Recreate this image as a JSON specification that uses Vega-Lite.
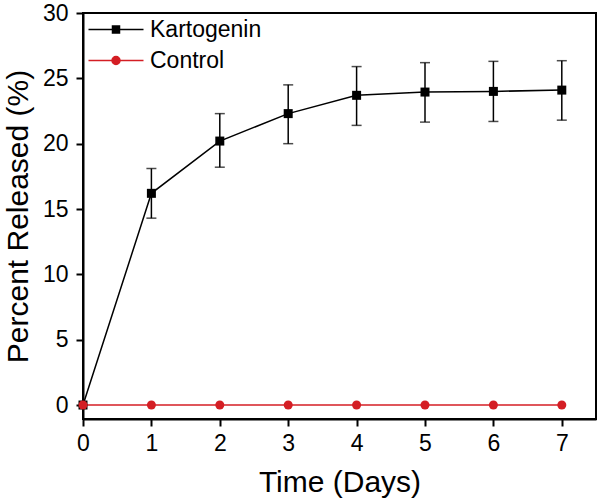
{
  "$schema": "https://vega.github.io/schema/vega-lite/v6.json",
  "width": 513,
  "height": 406,
  "autosize": {"type": "none"},
  "padding": {"left": 83, "top": 13, "right": 4, "bottom": 82},
  "background": "white",
  "config": {
    "font": "Liberation Sans",
    "view": {"stroke": "black", "strokeWidth": 2},
    "axis": {
      "grid": false,
      "domainColor": "black",
      "domainWidth": 2,
      "tickColor": "black",
      "tickWidth": 2,
      "labelColor": "black",
      "labelFont": "Liberation Sans",
      "labelFontSize": 23,
      "titleFont": "Liberation Sans",
      "titleFontSize": 30,
      "titleFontWeight": "normal",
      "titleColor": "black"
    }
  },
  "data": {
    "values": [
      {"series": "Kartogenin", "day": 0, "value": 0, "lo": null, "hi": null},
      {"series": "Kartogenin", "day": 1, "value": 16.2, "lo": 14.3, "hi": 18.1},
      {"series": "Kartogenin", "day": 2, "value": 20.2, "lo": 18.2, "hi": 22.3},
      {"series": "Kartogenin", "day": 3, "value": 22.3, "lo": 20.0, "hi": 24.5},
      {"series": "Kartogenin", "day": 4, "value": 23.7, "lo": 21.4, "hi": 25.9},
      {"series": "Kartogenin", "day": 5, "value": 23.95, "lo": 21.65, "hi": 26.2},
      {"series": "Kartogenin", "day": 6, "value": 24.0, "lo": 21.7, "hi": 26.3},
      {"series": "Kartogenin", "day": 7, "value": 24.1, "lo": 21.8, "hi": 26.35},
      {"series": "Control", "day": 0, "value": 0, "lo": null, "hi": null},
      {"series": "Control", "day": 1, "value": 0, "lo": null, "hi": null},
      {"series": "Control", "day": 2, "value": 0, "lo": null, "hi": null},
      {"series": "Control", "day": 3, "value": 0, "lo": null, "hi": null},
      {"series": "Control", "day": 4, "value": 0, "lo": null, "hi": null},
      {"series": "Control", "day": 5, "value": 0, "lo": null, "hi": null},
      {"series": "Control", "day": 6, "value": 0, "lo": null, "hi": null},
      {"series": "Control", "day": 7, "value": 0, "lo": null, "hi": null}
    ]
  },
  "layer": [
    {
      "mark": {"type": "line", "strokeWidth": 1.5},
      "encoding": {
        "x": {
          "field": "day",
          "type": "quantitative",
          "scale": {"domain": [0, 7.5], "nice": false, "zero": false},
          "axis": {
            "title": "Time (Days)",
            "values": [0, 0.5, 1, 1.5, 2, 2.5, 3, 3.5, 4, 4.5, 5, 5.5, 6, 6.5, 7],
            "labelExpr": "datum.value % 1 === 0 ? format(datum.value, 'd') : ''",
            "tickSize": {"condition": {"test": "datum.value % 1 === 0", "value": 7}, "value": 4},
            "labelPadding": 6,
            "titlePadding": 12,
            "labelFlush": false,
            "labelOverlap": false
          }
        },
        "y": {
          "field": "value",
          "type": "quantitative",
          "scale": {"domain": [-1.07, 30], "nice": false, "zero": false},
          "axis": {
            "title": "Percent Released (%)",
            "values": [0, 2.5, 5, 7.5, 10, 12.5, 15, 17.5, 20, 22.5, 25, 27.5, 30],
            "labelExpr": "datum.value % 5 === 0 ? format(datum.value, 'd') : ''",
            "tickSize": {"condition": {"test": "datum.value % 5 === 0", "value": 7}, "value": 4},
            "labelPadding": 8,
            "titlePadding": 9,
            "labelFlush": false,
            "labelOverlap": false
          }
        },
        "color": {
          "field": "series",
          "type": "nominal",
          "scale": {"domain": ["Kartogenin", "Control"], "range": ["black", "#d41e24"]},
          "legend": {
            "orient": "none",
            "legendX": 21.5,
            "legendY": 5,
            "title": null,
            "padding": 0,
            "symbolSize": 64,
            "symbolStrokeWidth": 1.5,
            "labelFont": "Liberation Sans",
            "labelFontSize": 23,
            "labelColor": "black",
            "labelOffset": 22.5,
            "rowPadding": 7,
            "encode": {
              "symbols": {
                "update": {
                  "shape": {"signal": "datum.value === 'Kartogenin' ? 'M-6.875,0H6.875M-0.875,-0.875H0.875V0.875H-0.875Z' : 'M-6.875,0H6.875M1,0A1,1,0,1,1,-1,0A1,1,0,1,1,1,0Z'"},
                  "fill": {"scale": "color", "field": "value"},
                  "stroke": {"scale": "color", "field": "value"},
                  "opacity": {"value": 1}
                }
              }
            }
          }
        }
      }
    },
    {
      "transform": [{"filter": "datum.lo != null"}],
      "mark": {"type": "rule", "strokeWidth": 1.5, "color": "black"},
      "encoding": {
        "x": {"field": "day", "type": "quantitative"},
        "y": {"field": "lo", "type": "quantitative"},
        "y2": {"field": "hi"}
      }
    },
    {
      "transform": [
        {"filter": "datum.lo != null"},
        {"fold": ["lo", "hi"], "as": ["end", "bound"]}
      ],
      "mark": {"type": "tick", "orient": "horizontal", "size": 10, "thickness": 1.5, "color": "black"},
      "encoding": {
        "x": {"field": "day", "type": "quantitative"},
        "y": {"field": "bound", "type": "quantitative"}
      }
    },
    {
      "mark": {"type": "point", "filled": true, "opacity": 1, "size": 81},
      "encoding": {
        "x": {"field": "day", "type": "quantitative"},
        "y": {"field": "value", "type": "quantitative"},
        "color": {"field": "series", "type": "nominal"},
        "shape": {"condition": {"test": "datum.series === 'Control'", "value": "circle"}, "value": "square"}
      }
    }
  ]
}
